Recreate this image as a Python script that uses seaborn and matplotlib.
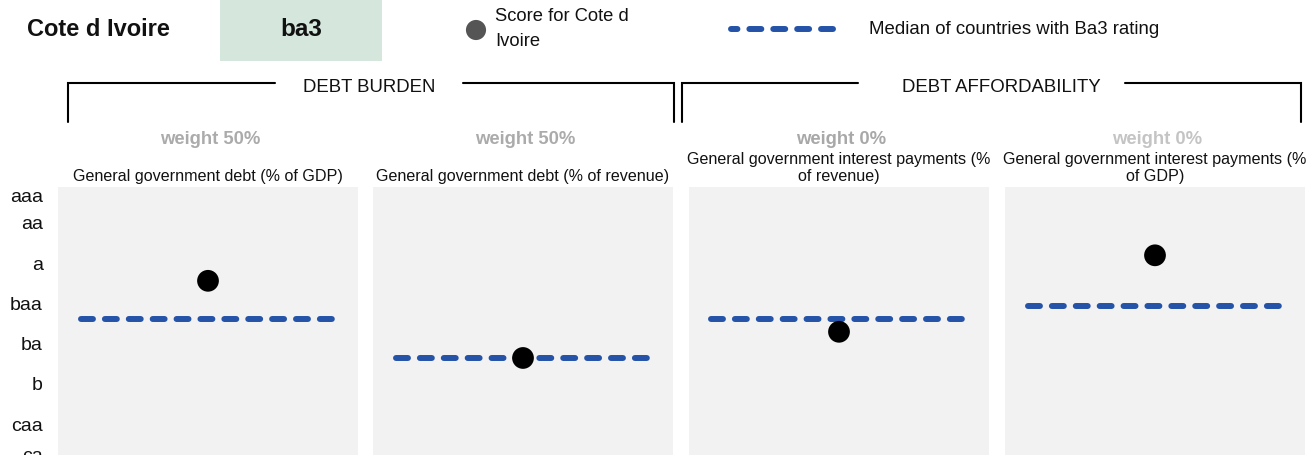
import matplotlib
matplotlib.use("Agg")
import matplotlib.pyplot as plt
import seaborn as sns
import pandas as pd
from matplotlib.patches import Rectangle

sns.set_theme(style="white")
plt.rcParams["font.family"] = ["Liberation Sans", "DejaVu Sans"]

# ---- data -------------------------------------------------------------
country = "Cote d Ivoire"
rating = "ba3"
groups = ["DEBT BURDEN", "DEBT AFFORDABILITY"]
factors = [
    "General government debt (% of GDP)",
    "General government debt (% of revenue)",
    "General government interest payments (%\nof revenue)",
    "General government interest payments (%\nof GDP)",
]
weights = ["weight 50%", "weight 50%", "weight 0%", "weight 0%"]
scores = [7.4, 13.15, 11.2, 5.5]           # country score on the rating scale
medians = [10.25, 13.15, 10.25, 9.3]       # median of Ba3 peers
scale_labels = ["aaa", "aa", "a", "baa", "ba", "b", "caa", "ca"]
scale_pos = [1, 3, 6, 9, 12, 15, 18, 20.3]

# ---- style ------------------------------------------------------------
W, H = 1310, 456
panel_bg = "#f2f2f2"
blue = "#2453a8"
weight_colors = ["#ababab", "#ababab", "#a8a8a8", "#c4c4c4"]

fig = plt.figure(figsize=(W / 100, H / 100), dpi=100)

panel_left = [58, 373, 689, 1005]
panel_w = 300
panel_top = 188

for i, (lab, s, m) in enumerate(zip(factors, scores, medians)):
    ax = fig.add_axes([panel_left[i] / W, 0, panel_w / W, (H - panel_top) / H])
    ax.set_facecolor(panel_bg)
    for sp in ax.spines.values():
        sp.set_visible(False)
    line_df = pd.DataFrame({"x": [0.075, 0.925], "y": [m, m]})
    sns.lineplot(data=line_df, x="x", y="y", ax=ax, color=blue, lw=4.3)
    ln = ax.lines[-1]
    ln.set_dashes((2, 2))
    ln.set_dash_capstyle("round")
    dot_df = pd.DataFrame({"x": [0.5], "y": [s]})
    sns.scatterplot(data=dot_df, x="x", y="y", ax=ax, color="black", s=245,
                    edgecolor="none", zorder=5)
    ax.set_xlim(0, 1)
    ax.set_ylim(20.38, 0.41)
    ax.set_xticks([])
    ax.set_xlabel("")
    ax.set_ylabel("")
    ax.set_yticks(scale_pos)
    if i == 0:
        ax.set_yticklabels(scale_labels, fontsize=14, color="#111111")
        ax.tick_params(axis="y", length=0, pad=11)
    else:
        ax.set_yticklabels([])
        ax.tick_params(axis="y", length=0)

# ---- overlay in pixel coordinates for header, legend and brackets -----
ov = fig.add_axes([0, 0, 1, 1], zorder=-1)
ov.set_xlim(0, W)
ov.set_ylim(H, 0)
ov.axis("off")

ov.text(27, 29, country, fontsize=17, fontweight="bold", ha="left", va="center",
        color="#111111")
ov.add_patch(Rectangle((220, 0), 162, 62, facecolor="#d5e6dd", edgecolor="none"))
ov.text(301, 29, rating, fontsize=17.5, fontweight="bold", ha="center", va="center",
        color="#111111")

ov.scatter([476], [31], s=210, color="#555555", edgecolor="none")
ov.text(495, 29, "Score for Cote d\nIvoire", fontsize=13.2, ha="left", va="center",
        linespacing=1.65, color="#111111")
ov.plot([833, 731], [30, 30], color=blue, lw=4.3, dashes=(2, 2),
        dash_capstyle="round")
ov.text(869, 30, "Median of countries with Ba3 rating", fontsize=13.4,
        ha="left", va="center", color="#111111")

# group brackets
brackets = [(68, 674, 275, 463, 369), (682, 1301, 858, 1125, 1001)]
for (x0, x1, g0, g1, xc), name in zip(brackets, groups):
    ov.plot([x0, x0, g0], [123, 84, 84], color="black", lw=1.5,
            solid_joinstyle="miter")
    ov.plot([g1, x1, x1], [84, 84, 123], color="black", lw=1.5,
            solid_joinstyle="miter")
    ov.text(xc, 88, name, fontsize=13.4, ha="center", va="center", color="#111111")

for i, (lab, wt) in enumerate(zip(factors, weights)):
    xc = panel_left[i] + panel_w / 2
    ov.text(xc + 2, 140, wt, fontsize=13.3, fontweight="bold", ha="center",
            va="center", color=weight_colors[i])
    ov.text(xc, 184, lab, fontsize=11.6, ha="center", va="bottom",
            linespacing=1.2, color="#111111", multialignment="center")

fig.savefig("out.png", dpi=100)
